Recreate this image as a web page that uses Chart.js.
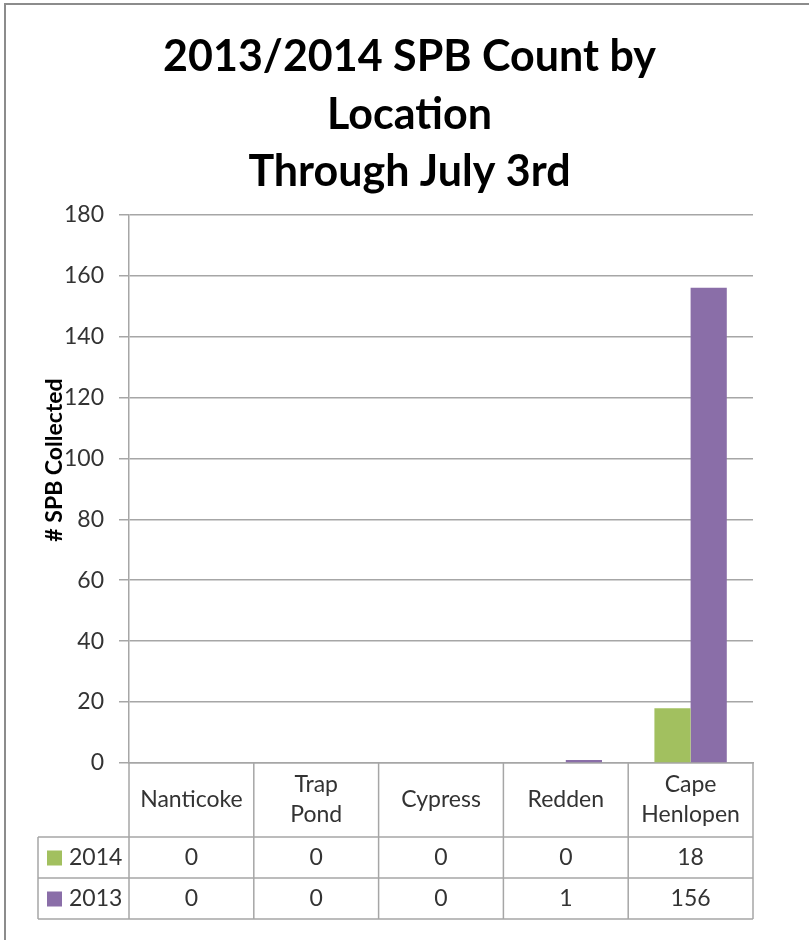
<!DOCTYPE html>
<html>
<head>
<meta charset="utf-8">
<script src="https://cdn.jsdelivr.net/npm/chart.js@4"></script>
<style>
  body { margin: 0; background: #fff; }
  canvas { display: block; }
</style>
</head>
<body>
<canvas id="chart" width="809" height="940"></canvas>
<script>
const locations = [['Nanticoke'], ['Trap', 'Pond'], ['Cypress'], ['Redden'], ['Cape', 'Henlopen']]
const seriesNames = ['2014', '2013']
const counts2014 = [0, 0, 0, 0, 18]
const counts2013 = [0, 0, 0, 1, 156]

const green = '#A2C05F'
const purple = '#8A6EA8'
const gridColor = '#A6A6A6'
const textColor = '#333333'
const font = 'Lato, "Open Sans", sans-serif'

// white background and the grey frame round the chart
const frame = {
  id: 'frame',
  beforeDraw(chart) {
    const { ctx, width, height } = chart
    ctx.save()
    ctx.fillStyle = '#fff'
    ctx.fillRect(0, 0, width, height)
    ctx.fillStyle = '#8C8C8C'
    ctx.fillRect(4, 3, 2, height)
    ctx.fillRect(4, 3, width, 2)
    ctx.restore()
  }
}

// Excel style data table under the plot, plus the y axis title
const dataTable = {
  id: 'dataTable',
  afterDraw(chart) {
    const { ctx, chartArea: area, scales: { x } } = chart
    const n = locations.length
    const colW = (area.right - area.left) / n
    const top = area.bottom
    const headH = 74
    const rowH = 41
    const legendLeft = 38
    const bottom = top + headH + 2 * rowH

    ctx.save()
    ctx.strokeStyle = gridColor
    ctx.lineWidth = 1.5
    const line = (x1, y1, x2, y2) => {
      ctx.beginPath()
      ctx.moveTo(x1, y1)
      ctx.lineTo(x2, y2)
      ctx.stroke()
    }
    for (let i = 0; i <= n; i++) {
      const xx = area.left + i * colW
      line(xx, top, xx, bottom)
    }
    for (let r = 0; r < 3; r++) {
      const yy = top + headH + r * rowH
      line(legendLeft, yy, area.right, yy)
    }
    line(legendLeft, top + headH, legendLeft, bottom)

    ctx.fillStyle = textColor
    ctx.font = '23px ' + font
    ctx.textAlign = 'center'
    ctx.textBaseline = 'middle'
    locations.forEach((lines, i) => {
      const cx = x.getPixelForValue(i)
      const mid = top + headH / 2
      lines.forEach((t, j) => {
        ctx.fillText(t, cx, mid + (j - (lines.length - 1) / 2) * 30)
      })
    })

    const rows = [counts2014, counts2013]
    const colors = [green, purple]
    rows.forEach((vals, r) => {
      const cy = top + headH + r * rowH + rowH / 2
      vals.forEach((v, i) => {
        ctx.fillStyle = textColor
        ctx.textAlign = 'center'
        ctx.fillText(String(v), x.getPixelForValue(i), cy)
      })
      ctx.fillStyle = colors[r]
      ctx.fillRect(47, cy - 7, 15, 15)
      ctx.fillStyle = textColor
      ctx.textAlign = 'left'
      ctx.fillText(seriesNames[r], 69, cy)
    })

    // axis title sits a bit above the middle, as Excel put it
    ctx.translate(55, 460)
    ctx.rotate(-Math.PI / 2)
    ctx.fillStyle = '#000'
    ctx.textAlign = 'center'
    ctx.font = 'bold 23px ' + font
    ctx.fillText('# SPB Collected', 0, 0)
    ctx.restore()
  }
}

new Chart(document.getElementById('chart'), {
  type: 'bar',
  data: {
    labels: locations.map(l => l.join(' ')),
    datasets: [
      { label: seriesNames[0], data: counts2014, backgroundColor: green },
      { label: seriesNames[1], data: counts2013, backgroundColor: purple }
    ]
  },
  options: {
    responsive: false,
    animation: false,
    datasets: {
      bar: { categoryPercentage: 0.58, barPercentage: 1 }
    },
    layout: {
      padding: { top: 29, right: 0, left: 10, bottom: 0 }
    },
    plugins: {
      legend: { display: false },
      tooltip: { enabled: false },
      title: {
        display: true,
        text: ['2013/2014 SPB Count by', 'Location', 'Through July 3rd'],
        color: '#000',
        font: { family: font, size: 43, weight: 'bold', lineHeight: 1.33 },
        padding: { top: 0, bottom: 14 }
      }
    },
    scales: {
      x: {
        ticks: { display: false },
        grid: { display: false, drawTicks: false },
        border: { color: gridColor, width: 1.5 },
        afterFit(scale) { scale.height = 177 }
      },
      y: {
        min: 0,
        max: 180,
        ticks: {
          stepSize: 20,
          color: textColor,
          padding: 15,
          font: { family: font, size: 23 }
        },
        grid: { color: gridColor, lineWidth: 1.5, tickLength: 10 },
        border: { color: gridColor, width: 1.5 },
        afterFit(scale) { scale.width = 119 }
      },
      // empty right axis keeps space on the right so the title centres on the page
      spacer: {
        position: 'right',
        ticks: { display: false },
        grid: { display: false, drawTicks: false },
        border: { display: false },
        afterFit(scale) { scale.width = 56 }
      }
    }
  },
  plugins: [frame, dataTable]
})
</script>
</body>
</html>
